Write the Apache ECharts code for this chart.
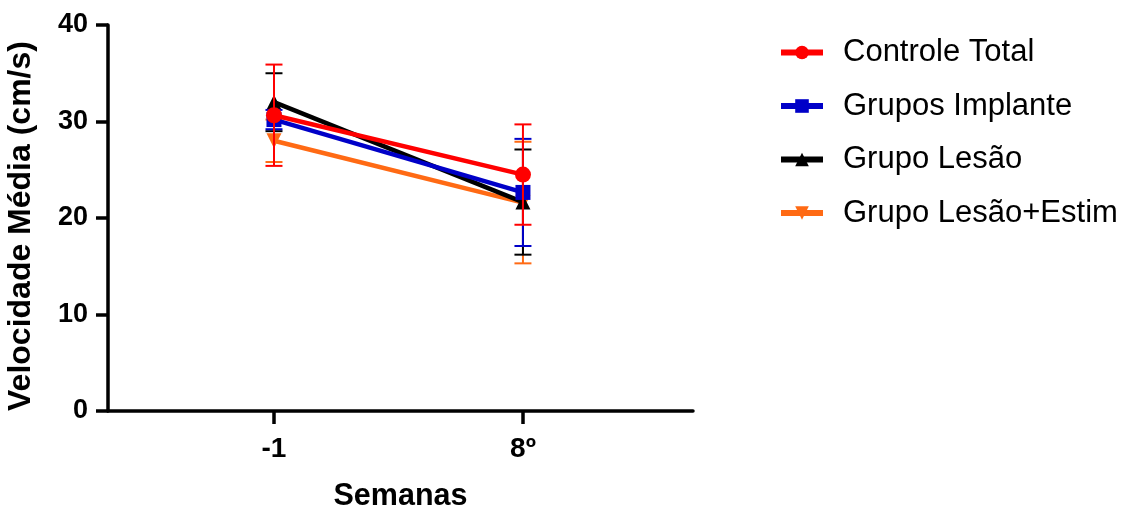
<!DOCTYPE html>
<html>
<head>
  <meta charset="UTF-8">
  <script src="https://cdn.jsdelivr.net/npm/echarts@6/dist/echarts.min.js"></script>
  <style>
    html, body { margin: 0; padding: 0; background: #fff; }
    #chart { width: 1124px; height: 509px; }
  </style>
</head>
<body>
<div id="chart"></div>
<script type="text/javascript">
  // semanas
  var xLabels = ['-1', '8º'];
  var xPos = [1, 2];
  var yTicks = [0, 10, 20, 30, 40];

  var names = ['Controle Total', 'Grupos Implante', 'Grupo Lesão', 'Grupo Lesão+Estim'];
  var controleMean = [30.65, 24.5];
  var controleErr = [5.25, 5.2];
  var implanteMean = [30.2, 22.65];
  var implanteErr = [1.0, 5.55];
  var lesaoMean = [32.0, 21.65];
  var lesaoErr = [3.0, 5.45];
  var estimMean = [28.0, 21.6];
  var estimErr = [2.2, 6.3];

  var colors = ['#ff0000', '#0000c8', '#000000', '#ff6a14'];
  var symbols = ['circle', 'rect', 'triangle', 'triangle'];
  var rotates = [0, 0, 0, 180];
  var sizes = [16, 15, 15, 15];
  var zs = [8, 6, 4, 2];
  var means = [controleMean, implanteMean, lesaoMean, estimMean];
  var errs = [controleErr, implanteErr, lesaoErr, estimErr];

  var font = '"Liberation Sans", Arial, sans-serif';

  function errorBar(params, api) {
    var x = api.value(0);
    var lo = api.coord([x, api.value(1)]);
    var hi = api.coord([x, api.value(2)]);
    var w = 8.5;
    var st = { stroke: api.visual('color'), lineWidth: 2 };
    return {
      type: 'group',
      children: [
        { type: 'line', shape: { x1: lo[0], y1: lo[1], x2: hi[0], y2: hi[1] }, style: st },
        { type: 'line', shape: { x1: lo[0] - w, y1: lo[1], x2: lo[0] + w, y2: lo[1] }, style: st },
        { type: 'line', shape: { x1: hi[0] - w, y1: hi[1], x2: hi[0] + w, y2: hi[1] }, style: st }
      ]
    };
  }

  var series = [];
  names.forEach(function (n, i) {
    series.push({
      name: n,
      type: 'line',
      data: xPos.map(function (x, j) { return [x, means[i][j]]; }),
      symbol: symbols[i],
      symbolSize: sizes[i],
      symbolRotate: rotates[i],
      itemStyle: { color: colors[i] },
      lineStyle: { color: colors[i], width: 4.5 },
      z: zs[i],
      animation: false
    });
    series.push({
      name: n,
      type: 'custom',
      renderItem: errorBar,
      itemStyle: { color: colors[i] },
      data: xPos.map(function (x, j) { return [x, means[i][j] - errs[i][j], means[i][j] + errs[i][j]]; }),
      z: zs[i] + 1,
      silent: true,
      animation: false
    });
  });

  var chart = echarts.init(document.getElementById('chart'));
  var option = {
    backgroundColor: '#fff',
    animation: false,
    grid: { left: 108, right: 431, top: 25, bottom: 98, outerBoundsMode: 'none' },
    legend: {
      data: names.map(function (n, i) {
        return { name: n, lineStyle: { width: 6 }, itemStyle: { color: colors[i] } };
      }),
      orient: 'vertical',
      left: 773,
      top: 32,
      itemWidth: 42,
      itemHeight: 17,
      itemGap: 22.5,
      textStyle: { fontFamily: font, fontSize: 31, color: '#000', padding: [0, 0, 0, 15] }
    },
    xAxis: {
      type: 'value',
      min: 1 / 3,
      max: 2.683,
      name: 'Semanas',
      nameLocation: 'middle',
      nameGap: 70,
      nameTextStyle: { fontFamily: font, fontSize: 30.5, fontWeight: 'bold', color: '#000' },
      splitLine: { show: false },
      axisLine: { lineStyle: { color: '#000', width: 3.5 } },
      axisTick: { customValues: xPos, length: 13, lineStyle: { color: '#000', width: 3.5 } },
      axisLabel: {
        customValues: xPos,
        margin: 24,
        fontFamily: font, fontSize: 28, fontWeight: 'bold', color: '#000',
        formatter: function (v) {
          var k = xPos.indexOf(v);
          return k >= 0 ? xLabels[k] : '';
        }
      }
    },
    yAxis: {
      type: 'value',
      min: 0,
      max: 40,
      interval: 10,
      name: 'Velocidade Média (cm/s)',
      nameLocation: 'middle',
      nameGap: 71,
      nameTextStyle: { fontFamily: font, fontSize: 32, fontWeight: 'bold', color: '#000', padding: [0, 16, 0, 0] },
      splitLine: { show: false },
      axisLine: { show: true, lineStyle: { color: '#000', width: 3.5 } },
      axisTick: { show: true, length: 12, lineStyle: { color: '#000', width: 3.5 } },
      axisLabel: {
        margin: 20,
        fontFamily: font, fontSize: 27, fontWeight: 'bold', color: '#000',
        formatter: function (v) { return yTicks.indexOf(v) >= 0 ? String(v) : ''; }
      }
    },
    series: series
  };
  chart.setOption(option);
</script>
</body>
</html>
